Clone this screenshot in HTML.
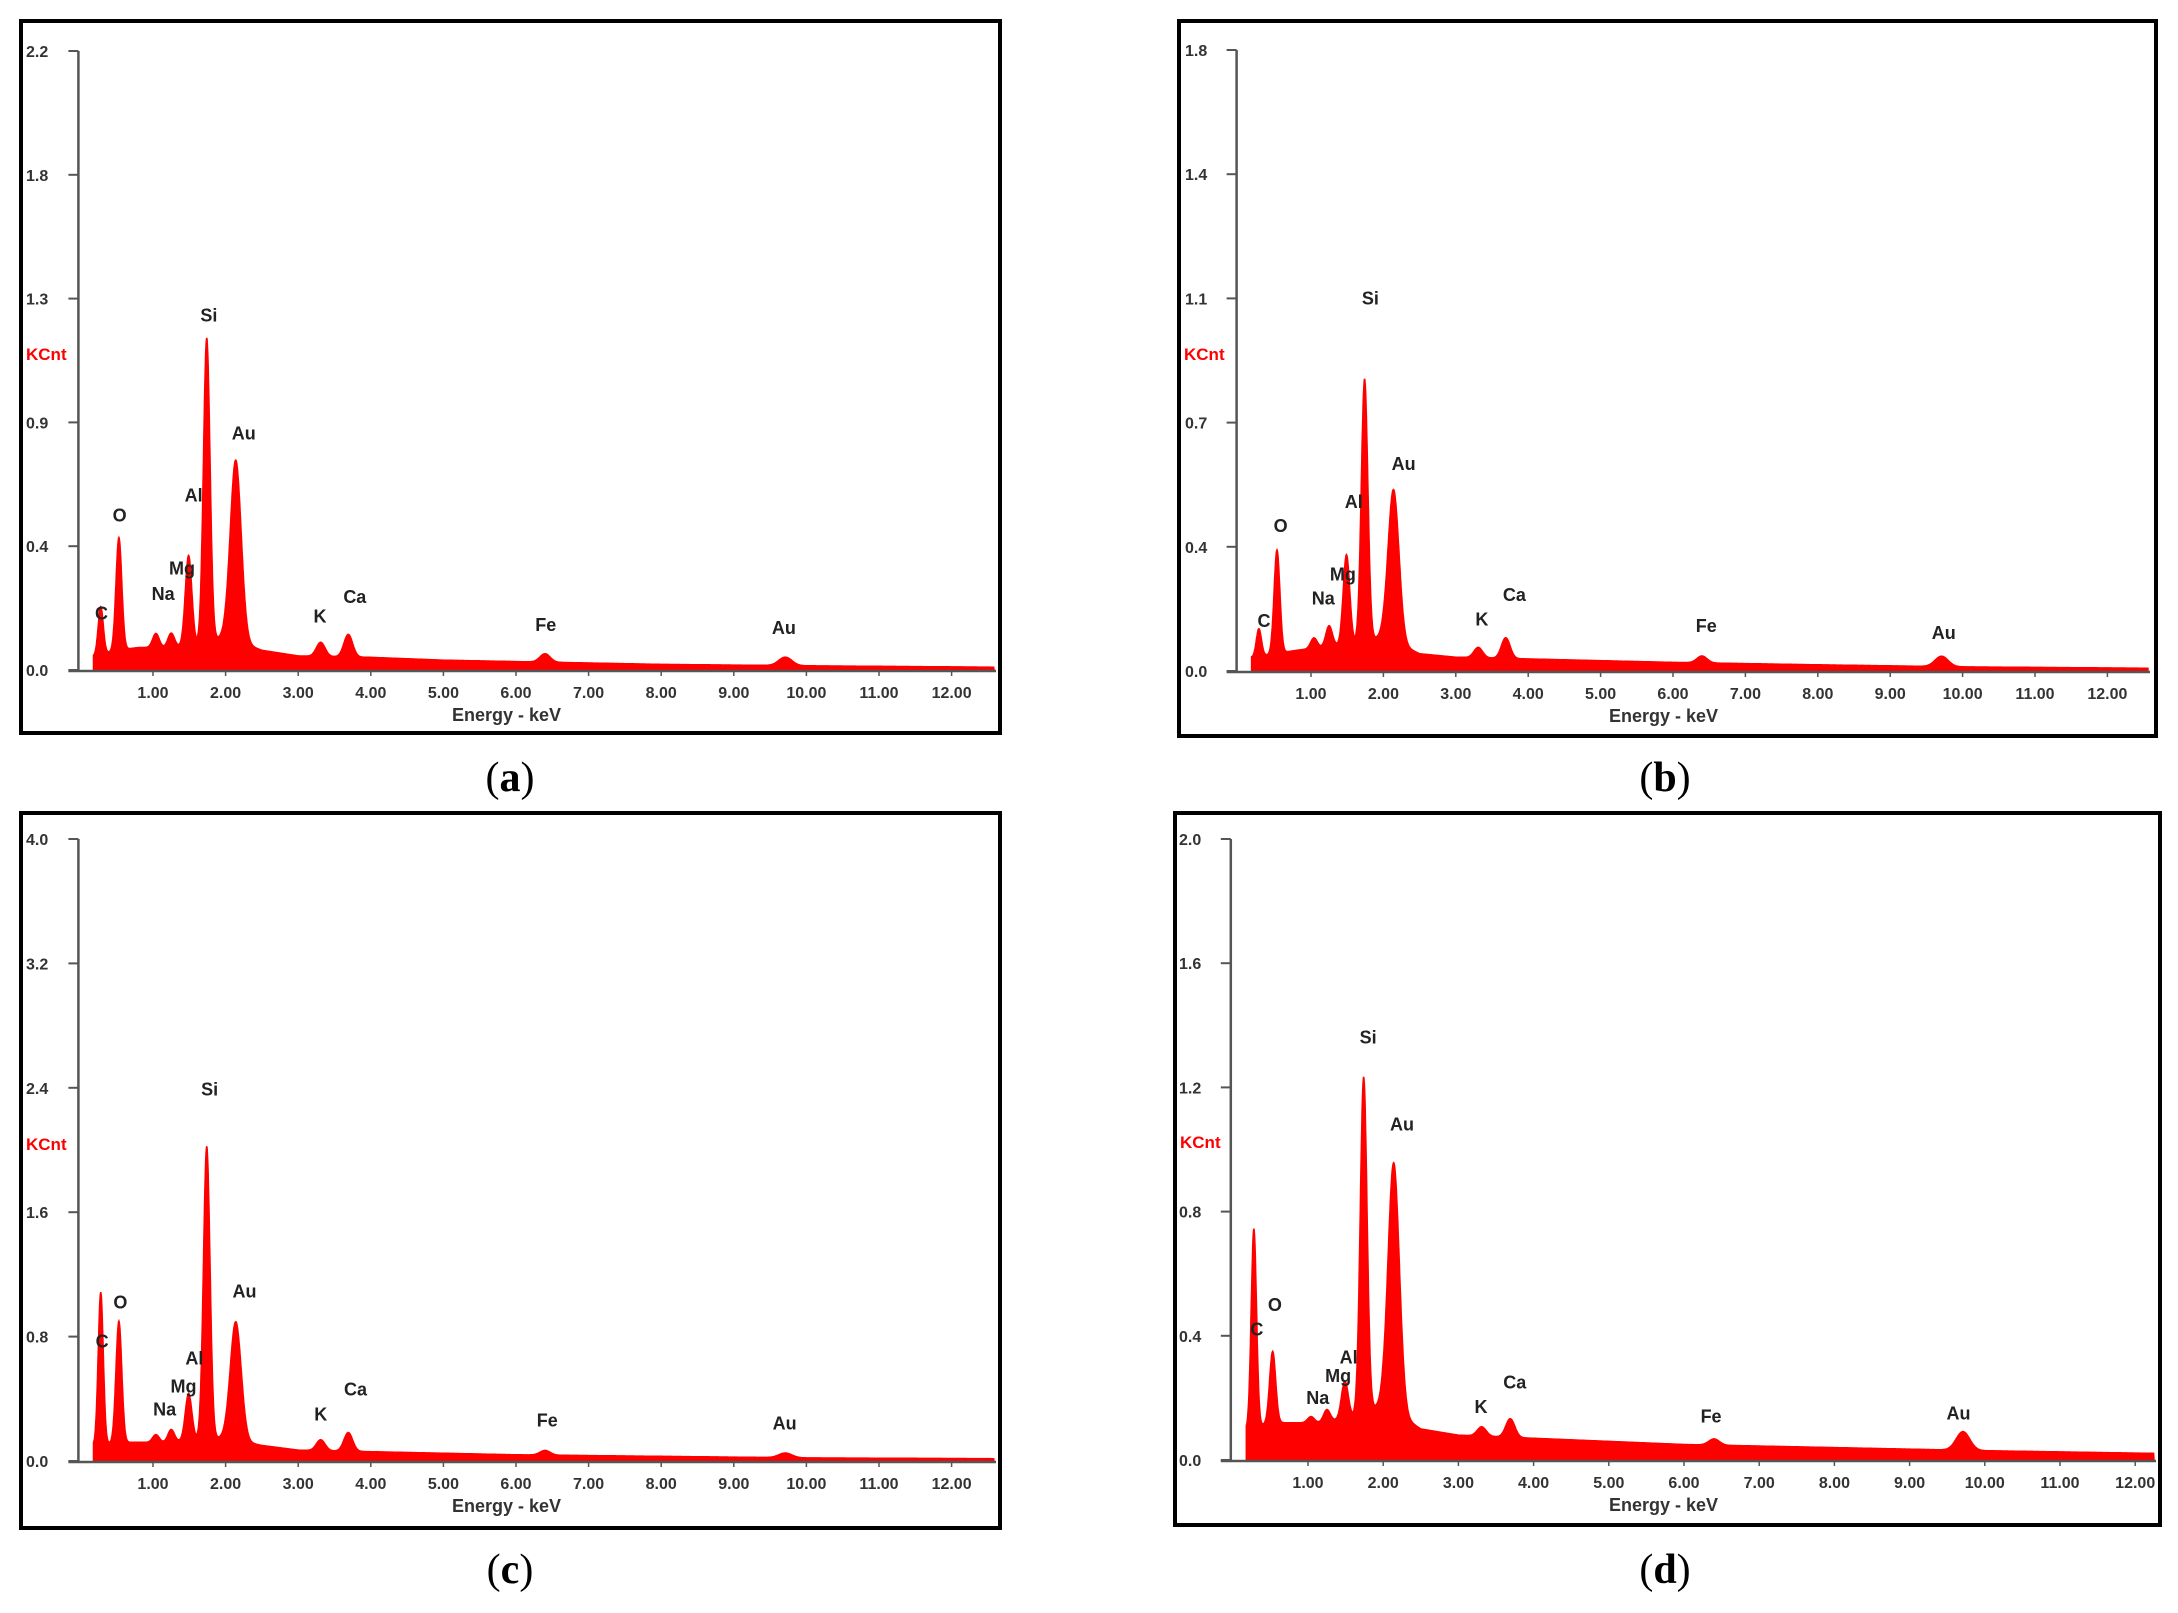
<!DOCTYPE html>
<html><head><meta charset="utf-8"><style>
html,body{margin:0;padding:0;background:#fff;}
svg{display:block;}
text{font-family:"Liberation Sans",sans-serif;}
</style></head><body>
<svg id="fig" width="2178" height="1613" viewBox="0 0 2178 1613"></svg>
<script>
// ----- data -----
const peakNames = ["C","O","Na","Mg","Al","Si","Au","K","Ca","Fe","Au"];
const peakEnergies = [0.28,0.53,1.04,1.25,1.49,1.74,2.14,3.31,3.69,6.40,9.71];
const peakWidths = [0.035,0.04,0.045,0.045,0.045,0.045,0.075,0.06,0.06,0.07,0.09];
const bgEnergies = [0.2,0.5,0.8,1.2,1.6,2.0,2.5,3.0,4.0,5.0,6.0,8.0,10.0,12.6];

const aHeights = [0.17,0.40,0.05,0.05,0.32,1.08,0.64,0.05,0.08,0.03,0.03];
const bHeights = [0.08,0.30,0.03,0.06,0.26,0.76,0.44,0.03,0.06,0.02,0.03];
const cHeights = [0.98,0.78,0.05,0.08,0.3,1.88,0.76,0.07,0.12,0.03,0.03];
const dHeights = [0.64,0.23,0.02,0.04,0.12,1.08,0.8,0.03,0.06,0.02,0.06];

const aBg = [0.05,0.07,0.08,0.08,0.09,0.12,0.07,0.05,0.045,0.035,0.03,0.02,0.015,0.01];
const bBg = [0.04,0.05,0.06,0.07,0.08,0.1,0.05,0.04,0.035,0.03,0.025,0.018,0.012,0.008];
const cBg = [0.1,0.12,0.12,0.12,0.14,0.15,0.1,0.07,0.06,0.05,0.04,0.03,0.02,0.015];
const dBg = [0.1,0.12,0.12,0.12,0.14,0.18,0.1,0.08,0.07,0.06,0.05,0.04,0.03,0.02];

const aYTicks = ["0.0","0.4","0.9","1.3","1.8","2.2"];
const bYTicks = ["0.0","0.4","0.7","1.1","1.4","1.8"];
const cYTicks = ["0.0","0.8","1.6","2.4","3.2","4.0"];
const dYTicks = ["0.0","0.4","0.8","1.2","1.6","2.0"];
const xTickLabels = ["1.00","2.00","3.00","4.00","5.00","6.00","7.00","8.00","9.00","10.00","11.00","12.00"];

const aLabelE = [0.29,0.54,1.14,1.40,1.56,1.77,2.25,3.30,3.78,6.41,9.69];
const aLabelV = [0.20,0.55,0.27,0.36,0.62,1.26,0.84,0.19,0.26,0.16,0.15];
const bLabelE = [0.35,0.58,1.17,1.44,1.59,1.82,2.28,3.36,3.81,6.46,9.74];
const bLabelV = [0.145,0.42,0.21,0.28,0.49,1.08,0.60,0.15,0.22,0.13,0.11];
const cLabelE = [0.30,0.55,1.16,1.42,1.57,1.78,2.26,3.31,3.79,6.43,9.70];
const cLabelV = [0.77,1.02,0.33,0.48,0.66,2.39,1.09,0.30,0.46,0.26,0.24];
const dLabelE = [0.32,0.56,1.13,1.40,1.54,1.80,2.25,3.30,3.75,6.36,9.65];
const dLabelV = [0.42,0.50,0.20,0.27,0.33,1.36,1.08,0.17,0.25,0.14,0.15];

// ----- layout -----
const panels = [
 {id:"a",frame:[21,21,979,712],x0:80.4,kx:72.6,base:670,ymax:2.2,ytop:51,axR:996,tickX:26,heights:aHeights,bg:aBg,yt:aYTicks,le:aLabelE,lv:aLabelV,cap:[510,778],kc:[26,360]},
 {id:"b",frame:[1179,21,977,715],x0:1238.6,kx:72.4,base:671,ymax:1.8,ytop:50,axR:2150,tickX:1185,heights:bHeights,bg:bBg,yt:bYTicks,le:bLabelE,lv:bLabelV,cap:[1665,778],kc:[1184,360]},
 {id:"c",frame:[21,813,979,715],x0:80.4,kx:72.6,base:1461,ymax:4.0,ytop:839,axR:996,tickX:26,heights:cHeights,bg:cBg,yt:cYTicks,le:cLabelE,lv:cLabelV,cap:[510,1570],kc:[26,1150]},
 {id:"d",frame:[1175,813,985,712],x0:1232.8,kx:75.2,base:1460,ymax:2.0,ytop:839,axR:2156,tickX:1179,heights:dHeights,bg:dBg,yt:dYTicks,le:dLabelE,lv:dLabelV,cap:[1665,1570],kc:[1180,1148]}
];
const NS="http://www.w3.org/2000/svg";
const svg=document.getElementById("fig");
function mk(tag,attrs,parent){const e=document.createElementNS(NS,tag);for(const k in attrs)e.setAttribute(k,attrs[k]);(parent||svg).appendChild(e);return e;}
function interp(xs,ys,x){if(x<=xs[0])return ys[0];for(let i=1;i<xs.length;i++){if(x<=xs[i]){const t=(x-xs[i-1])/(xs[i]-xs[i-1]);return ys[i-1]+t*(ys[i]-ys[i-1]);}}return ys[ys.length-1];}

panels.forEach(p=>{
  const g=mk("g",{});
  
  
  const sx=e=>p.x0+e*p.kx;
  const sy=v=>p.base-v*(p.base-p.ytop)/p.ymax;
  const fr=mk("rect",{x:p.frame[0],y:p.frame[1],width:p.frame[2],height:p.frame[3],fill:"#fff",stroke:"#000","stroke-width":4},g);
  
  
  const eMax=(p.axR-2-p.x0)/p.kx;
  let d="M"+sx(0.18).toFixed(1)+","+p.base;
  for(let e=0.18;e<=eMax;e+=0.005){
    let v=interp(bgEnergies,p.bg,e);
    for(let i=0;i<peakEnergies.length;i++){const z=(e-peakEnergies[i])/peakWidths[i];v+=p.heights[i]*Math.exp(-0.5*z*z);}
    d+="L"+sx(e).toFixed(1)+","+sy(v).toFixed(1);
  }
  d+="L"+sx(eMax).toFixed(1)+","+p.base+"Z";
  const sp=mk("path",{d:d,fill:"#ff0000",stroke:"#ff0000","stroke-width":1.5},g);
  
  
  const axX=p.x0-2;
  const ya=mk("line",{x1:axX,y1:p.ytop,x2:axX,y2:p.base,stroke:"#555","stroke-width":2.5},g);
  
  
  const xa=mk("line",{x1:axX-10,y1:p.base+1,x2:p.axR,y2:p.base+1,stroke:"#555","stroke-width":2.5},g);
  
  
  p.yt.forEach((lab,i)=>{
    const y=p.base-i*(p.base-p.ytop)/(p.yt.length-1);
    mk("line",{x1:axX-10,y1:y,x2:axX,y2:y,stroke:"#555","stroke-width":2},g);
    const t=mk("text",{x:p.tickX,y:y+6,"font-size":16,"font-weight":"bold",fill:"#333"},g);
    t.textContent=lab;
    
    
  });
  xTickLabels.forEach((lab,i)=>{
    const x=sx(i+1);
    mk("line",{x1:x,y1:p.base,x2:x,y2:p.base+6,stroke:"#555","stroke-width":1.5},g);
    const t=mk("text",{x:x,y:p.base+28,"font-size":16,"font-weight":"bold",fill:"#333","text-anchor":"middle"},g);
    t.textContent=lab;
    
    
  });
  const xt=mk("text",{x:(p.frame[0]*2+p.frame[2])/2-4,y:p.base+51,"font-size":18,"font-weight":"bold",fill:"#333","text-anchor":"middle"},g);
  xt.textContent="Energy - keV";
  
  
  const kc=mk("text",{x:p.kc[0],y:p.kc[1],"font-size":17,"font-weight":"bold",fill:"#ff0000"},g);
  kc.textContent="KCnt";
  
  
  peakNames.forEach((n,i)=>{
    const t=mk("text",{x:sx(p.le[i]),y:sy(p.lv[i])+6,"font-size":18,"font-weight":"bold",fill:"#222","text-anchor":"middle"},g);
    t.textContent=n;
    
    
  });
  const cap=mk("text",{x:p.cap[0],y:p.cap[1]+13,"font-size":42,fill:"#000","text-anchor":"middle",style:"font-family:'Liberation Serif',serif"},g);
  cap.innerHTML='(<tspan font-weight="bold">'+p.id+'</tspan>)';
  
  
});
</script>
</body></html>
